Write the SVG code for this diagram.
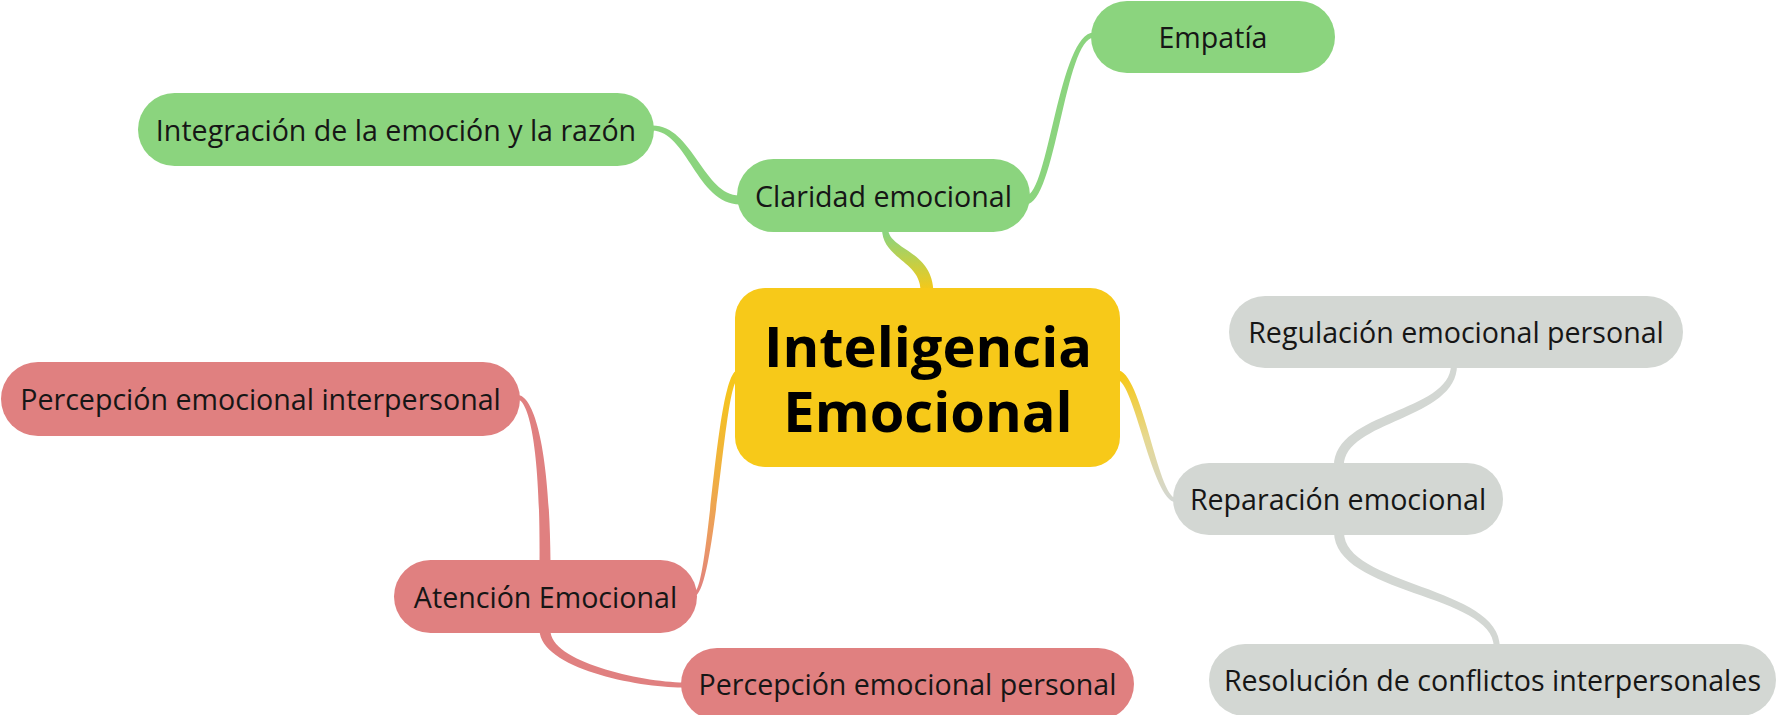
<svg xmlns="http://www.w3.org/2000/svg" width="1782" height="715" viewBox="0 0 1782 715">
<defs>
<style>
.t{font-family:"Open Sans","Noto Sans","DejaVu Sans",sans-serif;font-size:28.6px;font-weight:500;fill:#161616;text-anchor:middle}
.c{font-family:"Open Sans","Noto Sans","DejaVu Sans",sans-serif;font-size:56px;font-weight:700;fill:#000;text-anchor:middle}
.g{fill:#8bd47e}.r{fill:#e08080}.y{fill:#f7c919}.s{fill:#d3d7d3}
</style>
<linearGradient id="gA" gradientUnits="userSpaceOnUse" x1="0" y1="290" x2="0" y2="234"><stop offset="0" stop-color="#f6c818"/><stop offset="0.5" stop-color="#c2cf48"/><stop offset="1" stop-color="#8bd47e"/></linearGradient>
<linearGradient id="gD" gradientUnits="userSpaceOnUse" x1="0" y1="375" x2="0" y2="594"><stop offset="0" stop-color="#f6c818"/><stop offset="0.45" stop-color="#f0b040"/><stop offset="0.75" stop-color="#eb9a62"/><stop offset="1" stop-color="#e08080"/></linearGradient>
<linearGradient id="gG" gradientUnits="userSpaceOnUse" x1="0" y1="375" x2="0" y2="500"><stop offset="0" stop-color="#f6c818"/><stop offset="0.5" stop-color="#e6d890"/><stop offset="1" stop-color="#d3d7d3"/></linearGradient>
</defs>
<rect width="1782" height="715" fill="#fff"/>
<g id="connectors">
<path fill="url(#gA)" d="M 920.5 292 C 921.5 260.5, 881.5 259.5, 882 228 L 888 228 C 888.5 250.5, 932.5 249.5, 933.5 292 Z"/>
<path class="g" d="M 740 204.5 C 696.5 204, 687.4 131, 652 130.5 L 652 125.5 C 692.6 125, 703.5 196, 740 195.5 Z"/>
<path class="g" d="M 1026 195.5 C 1048.2 196, 1059.2 32, 1094 32.5 L 1094 37.5 C 1064.8 38, 1055.8 204, 1026 204.5 Z"/>
<path fill="url(#gD)" d="M 738 370 C 715.7 370.5, 709.1 591, 694 592 L 694 596 C 714.9 597, 724.3 379.5, 738 380 Z"/>
<path class="r" d="M 539.5 563 C 540.5 440.8, 527.9 400, 517 399 L 517 395 C 532.1 394, 549.5 439.2, 550.5 563 Z"/>
<path class="r" d="M 550.5 630 C 549.5 661.4, 640.3 682, 684 682.5 L 684 687.5 C 639.7 688, 540.5 668.7, 539.5 630 Z"/>
<path fill="url(#gG)" d="M 1117 370 C 1141.9 370.5, 1157.6 497, 1176 498 L 1176 502 C 1152.4 503, 1134.1 379.5, 1117 380 Z"/>
<path class="s" d="M 1334 466 C 1334.5 411.5, 1450.5 412.5, 1451 365 L 1457 365 C 1457.5 419.5, 1343.5 420.5, 1344 466 Z"/>
<path class="s" d="M 1344 532 C 1343.5 585.5, 1500.5 586.5, 1500 647 L 1494 647 C 1493.5 593.5, 1334.5 594.5, 1334 532 Z"/>
</g>
<g id="central">
<rect class="y" x="735" y="288" width="385" height="179" rx="30"/>
<text class="c" x="928" y="367">Inteligencia</text>
<text class="c" x="928" y="432">Emocional</text>
</g>
<g id="claridad">
<rect class="g" x="737" y="159" width="293" height="73" rx="36.5"/>
<text class="t" x="883.5" y="206.5">Claridad emocional</text>
</g>
<g id="empatia">
<rect class="g" x="1091" y="1" width="244" height="72" rx="36"/>
<text class="t" x="1213" y="48">Empatía</text>
</g>
<g id="integracion">
<rect class="g" x="138" y="93" width="516" height="73" rx="36.5"/>
<text class="t" x="396" y="140.5">Integración de la emoción y la razón</text>
</g>
<g id="atencion">
<rect class="r" x="394" y="560" width="303" height="73" rx="36.5"/>
<text class="t" x="545.5" y="607.5">Atención Emocional</text>
</g>
<g id="percepcion-interpersonal">
<rect class="r" x="1" y="362" width="519" height="74" rx="37"/>
<text class="t" x="260.5" y="410">Percepción emocional interpersonal</text>
</g>
<g id="percepcion-personal">
<rect class="r" x="681" y="648" width="453" height="72" rx="36"/>
<text class="t" x="907.5" y="695">Percepción emocional personal</text>
</g>
<g id="reparacion">
<rect class="s" x="1173" y="463" width="330" height="72" rx="36"/>
<text class="t" x="1338" y="510">Reparación emocional</text>
</g>
<g id="regulacion">
<rect class="s" x="1229" y="296" width="454" height="72" rx="36"/>
<text class="t" x="1456" y="343">Regulación emocional personal</text>
</g>
<g id="resolucion">
<rect class="s" x="1209" y="644" width="567" height="72" rx="36"/>
<text class="t" x="1492.5" y="691">Resolución de conflictos interpersonales</text>
</g>
</svg>
